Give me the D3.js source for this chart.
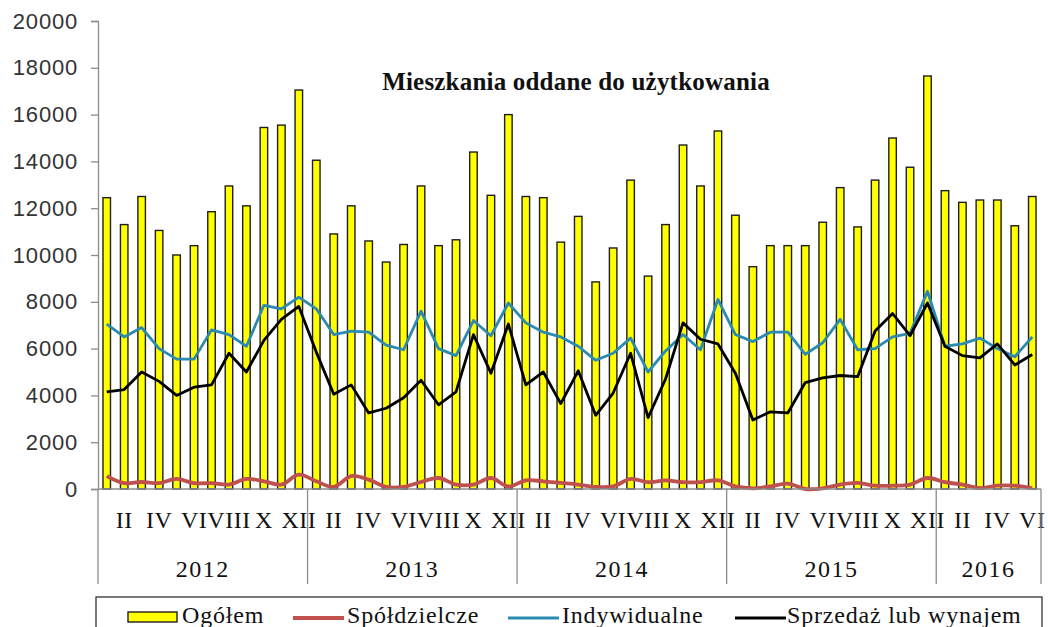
<!DOCTYPE html>
<html>
<head>
<meta charset="utf-8">
<script src="https://cdn.jsdelivr.net/npm/d3@7"></script>
<style>
  html, body { margin: 0; padding: 0; background: #fff; }
  svg { display: block; }
</style>
</head>
<body>
<svg id="chart" width="1048" height="627"></svg>
<script>
// ---- Data ----
const years = ["2012", "2013", "2014", "2015", "2016"];
const monthsPerYear = [12, 12, 12, 12, 6];
const romanMonths = ["I","II","III","IV","V","VI","VII","VIII","IX","X","XI","XII"];
const yTicks = [0, 2000, 4000, 6000, 8000, 10000, 12000, 14000, 16000, 18000, 20000];

const ogolem = [
  12450, 11300, 12500, 11050, 10000, 10400, 11850, 12950, 12100, 15450, 15550, 17050,
  14050, 10900, 12100, 10600, 9700, 10450, 12950, 10400, 10650, 14400, 12550, 16000,
  12500, 12450, 10550, 11650, 8850, 10300, 13200, 9100, 11300, 14700, 12950, 15300,
  11700, 9500, 10400, 10400, 10400, 11400, 12880, 11200, 13200, 15000, 13750, 17650,
  12750, 12250, 12350, 12350, 11250, 12500
];
const spoldzielcze = [
  550, 250, 300, 250, 430, 250, 250, 190, 430, 330, 190, 610,
  330, 90, 550, 400, 90, 90, 300, 470, 190, 190, 470, 110,
  370, 330, 260, 190, 90, 110, 430, 290, 370, 290, 290, 370,
  110, 30, 110, 230, 0, 30, 190, 260, 140, 140, 190, 470,
  290, 190, 40, 140, 140, 40
];
const indywidualne = [
  7050, 6500, 6900, 6000, 5550, 5550, 6800, 6600, 6100, 7850, 7700, 8200,
  7700, 6600, 6750, 6700, 6150, 5950, 7600, 6000, 5700, 7200, 6550, 7950,
  7100, 6700, 6500, 6100, 5500, 5800, 6450, 5000, 5900, 6600, 5950, 8100,
  6600, 6300, 6700, 6700, 5750, 6250, 7250, 5950, 6000, 6500, 6650, 8450,
  6100, 6200, 6450, 6000, 5650, 6500
];
const sprzedaz = [
  4150, 4250, 5000, 4600, 4000, 4350, 4450, 5800, 5000, 6350, 7250, 7800,
  5850, 4050, 4450, 3250, 3450, 3900, 4650, 3600, 4150, 6600, 4950, 7050,
  4450, 5000, 3650, 5050, 3150, 4100, 5800, 3050, 4700, 7100, 6400, 6200,
  4950, 2950, 3300, 3250, 4550, 4750, 4850, 4800, 6750, 7500, 6550, 7950,
  6100, 5700, 5600, 6200, 5300, 5750
];
const seriesNames = ["Ogółem", "Spółdzielcze", "Indywidualne", "Sprzedaż lub wynajem"];
const titleText = "Mieszkania oddane do użytkowania";

// ---- Build categories ----
const cats = [];
years.forEach((yr, yi) => {
  for (let m = 0; m < monthsPerYear[yi]; m++) {
    cats.push({ idx: cats.length, year: yr, month: m, label: romanMonths[m] });
  }
});

const svg = d3.select("#chart");
const plotL = 98, plotR = 1041, plotT = 21, plotB = 489;

const x = d3.scaleBand().domain(cats.map(d => d.idx)).range([plotL, plotR]).paddingInner(0.57).paddingOuter(0.285);
const xStep = x.step();
const xc = i => x(i) + x.bandwidth() / 2;
const xEdge = b => b === 0 ? plotL : (b >= cats.length ? plotR : x(b) - xStep * 0.285);
const y = d3.scaleLinear().domain([0, 20000]).range([plotB, plotT]);

const serif = "'Liberation Serif', 'Times New Roman', serif";
const sans = "'Liberation Sans', Arial, sans-serif";
const tealColor = "#2A8AB0";
const redColor = "#C0504D";

// ---- Bars ----
svg.append("g").selectAll("rect").data(ogolem).join("rect")
  .attr("x", (d, i) => x(i))
  .attr("y", d => y(d))
  .attr("width", x.bandwidth())
  .attr("height", d => y(0) - y(d))
  .attr("fill", "#FFFF00")
  .attr("stroke", "#1e1e1e")
  .attr("stroke-width", 1.4);

// ---- Lines ----
const lineLin = d3.line().x((d, i) => xc(i)).y(d => y(d));
const lineSmooth = d3.line().x((d, i) => xc(i)).y(d => y(d)).curve(d3.curveCatmullRom.alpha(0.5));

svg.append("path").datum(spoldzielcze).attr("d", lineSmooth)
  .attr("fill", "none").attr("stroke", redColor).attr("stroke-width", 3.8).attr("stroke-linejoin", "round");
svg.append("path").datum(indywidualne).attr("d", lineLin)
  .attr("fill", "none").attr("stroke", tealColor).attr("stroke-width", 2.8).attr("stroke-linejoin", "round");
svg.append("path").datum(sprzedaz).attr("d", lineLin)
  .attr("fill", "none").attr("stroke", "#000").attr("stroke-width", 2.8).attr("stroke-linejoin", "round");

// ---- Y axis ----
const yAxis = svg.append("g").attr("transform", `translate(${plotL},0)`)
  .call(d3.axisLeft(y).tickValues(yTicks).tickFormat(d3.format("d")).tickSize(7).tickPadding(13));
yAxis.select(".domain").attr("stroke", "#8c8c8c").attr("stroke-width", 1.3);
yAxis.selectAll(".tick line").attr("stroke", "#8c8c8c").attr("stroke-width", 1.3);
yAxis.selectAll(".tick text").attr("font-family", sans).attr("font-size", 22)
  .attr("letter-spacing", 0.8).attr("fill", "#333");

// ---- X axis ----
svg.append("line").attr("x1", plotL).attr("x2", plotR).attr("y1", plotB).attr("y2", plotB)
  .attr("stroke", "#8c8c8c").attr("stroke-width", 1.3);

const labelCats = cats.filter(d => d.month % 2 === 1).map(d => d.idx);
const xAxis = svg.append("g").attr("transform", `translate(0,${plotB})`)
  .call(d3.axisBottom(x).tickValues(labelCats).tickFormat(i => cats[i].label).tickSize(0).tickPadding(22));
xAxis.select(".domain").remove();
xAxis.selectAll(".tick text").attr("font-family", serif).attr("font-size", 24)
  .attr("letter-spacing", 0.5).attr("fill", "#111");

// year separators
let acc = 0;
const bounds = [0];
monthsPerYear.forEach(n => { acc += n; bounds.push(acc); });
svg.append("g").selectAll("line").data(bounds).join("line")
  .attr("x1", b => xEdge(b)).attr("x2", b => xEdge(b))
  .attr("y1", plotB).attr("y2", 584)
  .attr("stroke", "#8c8c8c").attr("stroke-width", 1.3);

// year labels
svg.append("g").selectAll("text").data(years).join("text")
  .attr("x", (yr, yi) => (xEdge(bounds[yi]) + xEdge(bounds[yi + 1])) / 2)
  .attr("y", 577)
  .attr("text-anchor", "middle")
  .attr("font-family", serif).attr("font-size", 24).attr("letter-spacing", 1.5).attr("fill", "#111")
  .text(d => d);

// ---- Title ----
svg.append("text").attr("x", 576).attr("y", 90).attr("text-anchor", "middle")
  .attr("font-family", serif).attr("font-weight", "bold").attr("font-size", 25)
  .attr("letter-spacing", 0.2).attr("fill", "#111").text(titleText);

// ---- Legend ----
const lg = svg.append("g");
lg.append("rect").attr("x", 96).attr("y", 597).attr("width", 946).attr("height", 45)
  .attr("fill", "#fff").attr("stroke", "#222").attr("stroke-width", 1.2);
const legendItems = [
  { name: seriesNames[0], type: "bar", sx: 128, tx: 182 },
  { name: seriesNames[1], type: "line", color: redColor, w: 4, sx: 293, tx: 347 },
  { name: seriesNames[2], type: "line", color: tealColor, w: 3, sx: 508, tx: 562 },
  { name: seriesNames[3], type: "line", color: "#000", w: 3, sx: 735, tx: 787 }
];
legendItems.forEach(it => {
  if (it.type === "bar") {
    lg.append("rect").attr("x", it.sx).attr("y", 612).attr("width", 49).attr("height", 10)
      .attr("fill", "#FFFF00").attr("stroke", "#1e1e1e").attr("stroke-width", 1.4);
  } else {
    lg.append("line").attr("x1", it.sx).attr("x2", it.sx + 51).attr("y1", 618).attr("y2", 618)
      .attr("stroke", it.color).attr("stroke-width", it.w);
  }
  lg.append("text").attr("x", it.tx).attr("y", 623)
    .attr("font-family", serif).attr("font-size", 24).attr("letter-spacing", 0.8)
    .attr("fill", "#111").text(it.name);
});
</script>
</body>
</html>
